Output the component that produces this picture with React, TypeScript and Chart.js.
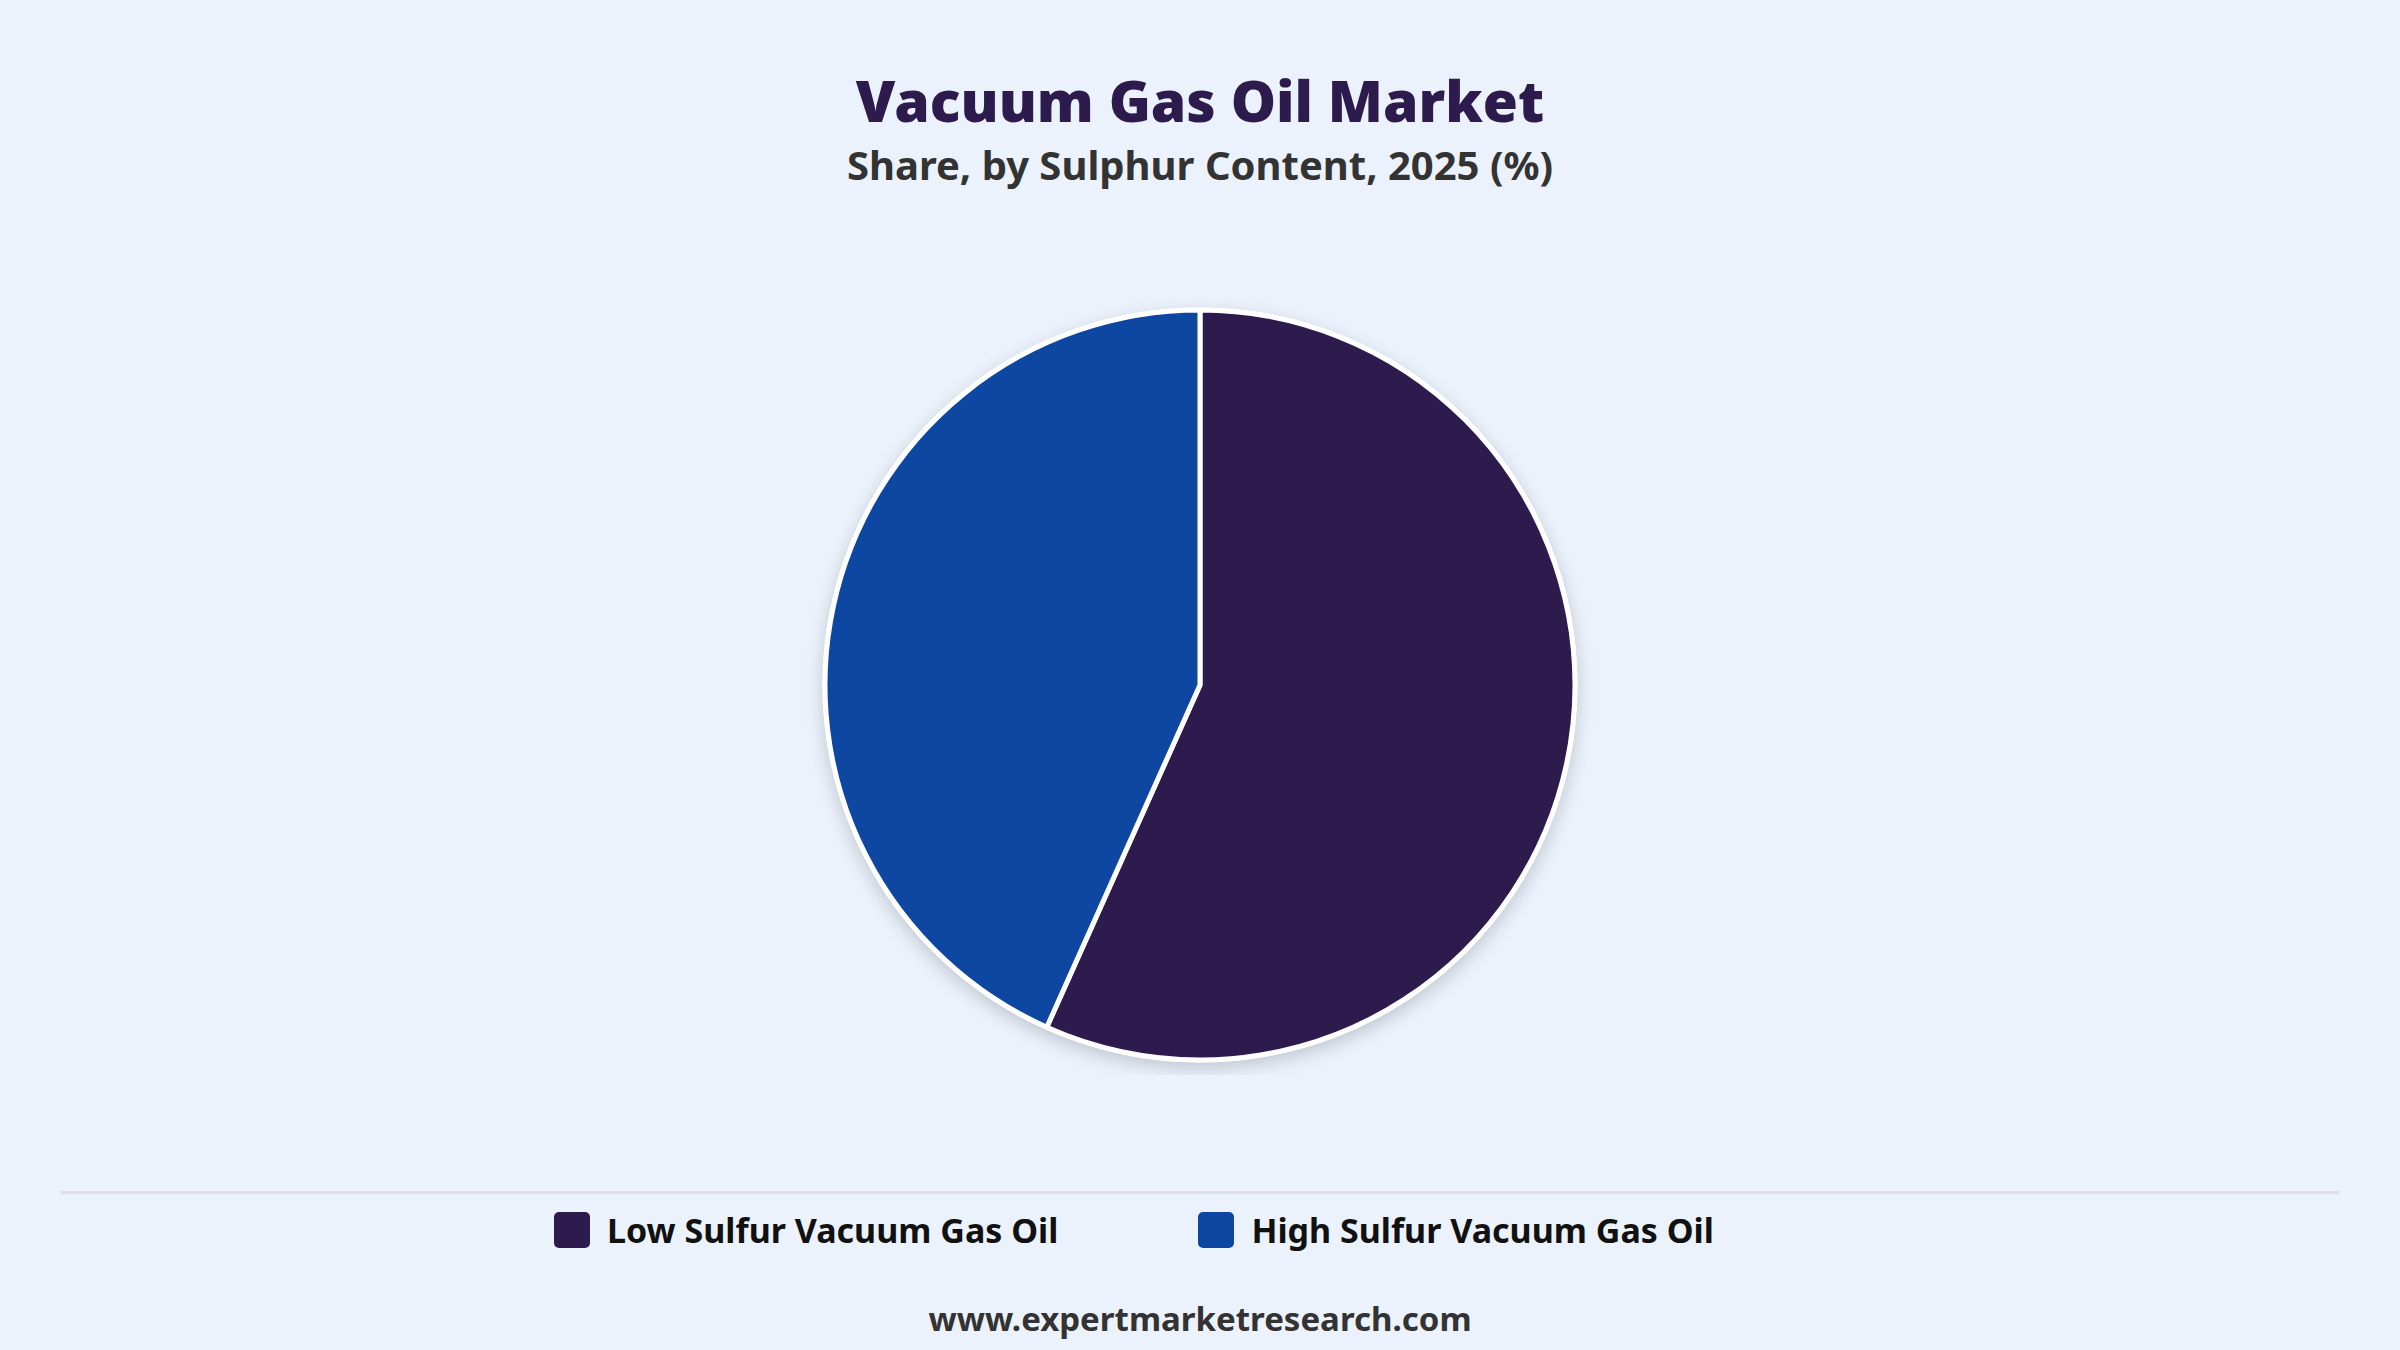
import { useEffect, useRef } from 'react';
import { Chart, registerables, Plugin } from 'chart.js';

Chart.register(...registerables);

const categories = ['Low Sulfur Vacuum Gas Oil', 'High Sulfur Vacuum Gas Oil'];
const shares = [56.7, 43.3];
const colors = ['#2D1B4E', '#0D47A1'];

const BG = '#EBF2FC';

// soft shadow disc behind the pie
const pieShadow: Plugin<'pie'> = {
  id: 'pieShadow',
  beforeDatasetsDraw(chart) {
    const arc: any = chart.getDatasetMeta(0).data[0];
    if (!arc) return;
    const { ctx } = chart;
    ctx.save();
    ctx.shadowColor = 'rgba(0, 0, 0, 0.18)';
    ctx.shadowBlur = 18;
    ctx.shadowOffsetY = 6;
    ctx.beginPath();
    ctx.arc(arc.x, arc.y, arc.outerRadius + 2.5, 0, Math.PI * 2);
    ctx.fillStyle = '#ffffff';
    ctx.fill();
    ctx.restore();
  },
};

function PieChart() {
  const chartRef = useRef<HTMLCanvasElement>(null);
  const chartInstance = useRef<Chart | null>(null);

  useEffect(() => {
    if (!chartRef.current) return;
    if (chartInstance.current) chartInstance.current.destroy();

    chartInstance.current = new Chart(chartRef.current, {
      type: 'pie',
      data: {
        labels: categories,
        datasets: [
          {
            data: shares,
            backgroundColor: colors,
            borderColor: '#ffffff',
            borderWidth: 5,
            hoverOffset: 0,
          },
        ],
      },
      options: {
        responsive: true,
        maintainAspectRatio: false,
        animation: false,
        radius: 375,
        layout: { padding: 0 },
        plugins: {
          legend: { display: false },
          tooltip: { enabled: false },
        },
      },
      plugins: [pieShadow],
    });

    return () => {
      if (chartInstance.current) {
        chartInstance.current.destroy();
        chartInstance.current = null;
      }
    };
  }, []);

  return <canvas ref={chartRef} />;
}

export default function App() {
  const font = '"Noto Sans", "Open Sans", sans-serif';
  return (
    <div
      style={{
        position: 'relative',
        width: 2400,
        height: 1350,
        background: BG,
        fontFamily: font,
        overflow: 'hidden',
      }}
    >
      <style>{`body{margin:0;background:${BG};}`}</style>
      <div
        style={{
          position: 'absolute',
          top: 70,
          left: 0,
          width: 2400,
          height: 60,
          lineHeight: '60px',
          textAlign: 'center',
          fontSize: 57,
          fontWeight: 900,
          color: '#2D1B4E',
        }}
      >
        Vacuum Gas Oil Market
      </div>
      <div
        style={{
          position: 'absolute',
          top: 145,
          left: 0,
          width: 2400,
          height: 40,
          lineHeight: '40px',
          textAlign: 'center',
          fontSize: 40,
          fontWeight: 700,
          color: '#333333',
        }}
      >
        Share, by Sulphur Content, 2025 (%)
      </div>

      <div style={{ position: 'absolute', top: 295, left: 0, width: 2400, height: 780 }}>
        <PieChart />
      </div>

      <div
        style={{
          position: 'absolute',
          top: 1191,
          left: 61,
          width: 2278,
          height: 3,
          background: '#DCDFE5',
        }}
      />

      <div
        style={{
          position: 'absolute',
          top: 1212,
          left: 554,
          height: 36,
          display: 'flex',
          alignItems: 'center',
        }}
      >
        {categories.map((c, i) => (
          <div
            key={c}
            style={{
              display: 'flex',
              alignItems: 'center',
              marginRight: i === 0 ? 140 : 0,
            }}
          >
            <span
              style={{
                width: 36,
                height: 36,
                borderRadius: 5,
                background: colors[i],
                display: 'inline-block',
                marginRight: 17,
              }}
            />
            <span style={{ fontSize: 34, fontWeight: 700, color: '#111111', lineHeight: '36px' }}>{c}</span>
          </div>
        ))}
      </div>

      <div
        style={{
          position: 'absolute',
          top: 1299,
          left: 0,
          width: 2400,
          height: 40,
          lineHeight: '40px',
          textAlign: 'center',
          fontSize: 33,
          fontWeight: 700,
          color: '#333333',
        }}
      >
        www.expertmarketresearch.com
      </div>
    </div>
  );
}
